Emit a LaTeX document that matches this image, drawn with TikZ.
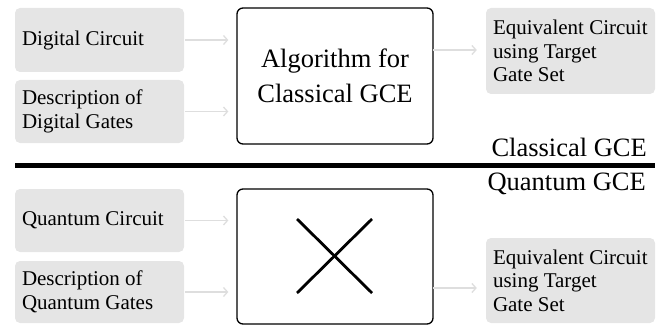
\documentclass[tikz,border=0pt]{standalone}
\usepackage{fontspec}
\setmainfont{Liberation Serif}
\usetikzlibrary{arrows.meta}
\begin{document}
\begin{tikzpicture}[x=1pt,y=-1pt,
  inbox/.style={fill=black!10, rounded corners=5pt, minimum width=169pt, text width=155pt, align=flush left, inner sep=0pt, font=\fontsize{21}{23.5}\selectfont},
  algbox/.style={draw=black, line width=1.3pt, rounded corners=6pt, minimum width=196pt, inner sep=0pt, align=center, font=\fontsize{26.5}{35}\selectfont},
  flow/.style={draw=black!13, line width=1.3pt, -{Straight Barb[length=4pt,width=9pt]}, shorten >=8pt},
  seclabel/.style={font=\fontsize{26.5}{30}\selectfont, inner sep=0pt, anchor=base east}
]
\useasboundingbox (0,0) rectangle (668,326);
% Classical
\node[inbox, minimum height=64pt] (dc) at (99.5,40) {Digital Circuit};
\node[inbox, minimum height=63pt] (dg) at (99.5,111.5) {Description of\\Digital Gates};
\node[algbox, minimum height=136pt] (alg) at (335,76) {Algorithm for\\Classical GCE};
\node[inbox, minimum height=86pt] (eq1) at (570.5,51) {Equivalent Circuit\\using Target\\Gate Set};
\coordinate (c1) at (433,50);
\draw[flow] ([xshift=1pt]dc.east) -- (dc.east -| alg.west);
\draw[flow] ([xshift=1pt]dg.east) -- (dg.east -| alg.west);
\draw[flow,shorten >=9pt] (c1) -- (c1 -| eq1.west);
\node[seclabel] (cl) at (647,156.5) {Classical GCE};
% separator
\coordinate (s1) at (15,165.5);
\coordinate (s2) at (655,165.5);
\draw[line width=4.7pt] (s1) -- (s2);
\node[seclabel] (ql) at (646,190) {Quantum GCE};
% Quantum
\node[inbox, minimum height=63pt] (qc) at (99.5,220.5) {Quantum Circuit};
\node[inbox, minimum height=62pt] (qg) at (99.5,292) {Description of\\Quantum Gates};
\node[algbox, minimum height=135pt] (qalg) at (335,256.5) {};
\node[inbox, minimum height=85pt] (eq2) at (570.5,280.5) {Equivalent Circuit\\using Target\\Gate Set};
\coordinate (xa) at (297,219);
\coordinate (xb) at (372,293);
\coordinate (xc) at (297,293);
\coordinate (xd) at (372,219);
\draw[line width=2.8pt] (xa) -- (xb);
\draw[line width=2.8pt] (xc) -- (xd);
\coordinate (c2) at (433,288);
\draw[flow] ([xshift=1pt]qc.east) -- (qc.east -| qalg.west);
\draw[flow] ([xshift=1pt]qg.east) -- (qg.east -| qalg.west);
\draw[flow,shorten >=9pt] (c2) -- (c2 -| eq2.west);
\end{tikzpicture}
\end{document}
